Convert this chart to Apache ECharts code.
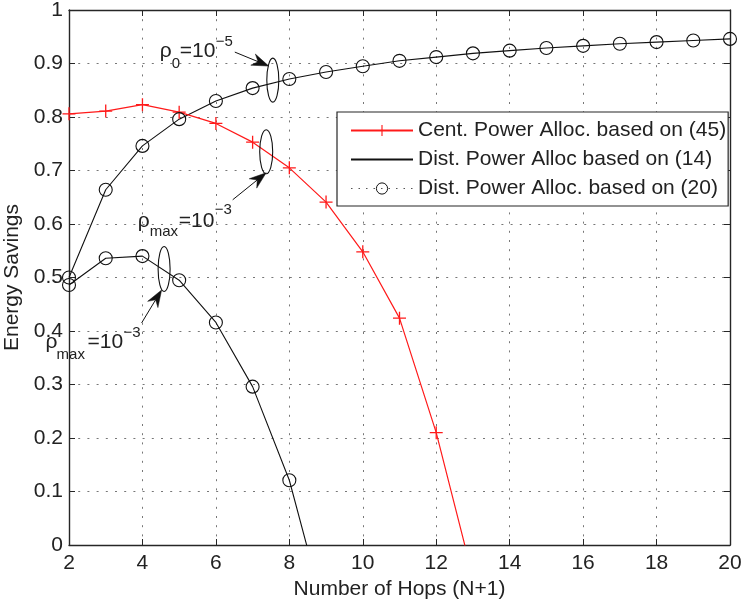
<!DOCTYPE html>
<html>
<head>
<meta charset="utf-8">
<script src="https://cdn.jsdelivr.net/npm/echarts@6/dist/echarts.min.js"></script>
<style>
html,body{margin:0;padding:0;background:#fff;}
#main{width:743px;height:602px;}
</style>
</head>
<body>
<div id="main"></div>
<script>
// ---- data ----
const centX = [2, 3, 4, 5, 6, 7, 8, 9, 10, 11, 12, 13];
const centVals = [0.806, 0.811, 0.823, 0.809, 0.788, 0.753, 0.705, 0.641, 0.548, 0.424, 0.210, -0.06];
const upperX = [2, 3, 4, 5, 6, 7, 8, 9, 10, 11, 12, 13, 14, 15, 16, 17, 18, 19, 20];
const upperVals = [0.500, 0.664, 0.746, 0.796, 0.830, 0.854, 0.871, 0.884, 0.895, 0.905, 0.912, 0.919, 0.924, 0.929, 0.933, 0.937, 0.940, 0.943, 0.946];
const lowerX = [2, 3, 4, 5, 6, 7, 8, 9];
const lowerVals = [0.486, 0.536, 0.540, 0.495, 0.416, 0.296, 0.121, -0.136];
const seriesNames = ['Cent. Power Alloc. based on (45)', 'Dist. Power Alloc based on (14)', 'Dist. Power Alloc. based on (20)'];
const xTicks = [2, 4, 6, 8, 10, 12, 14, 16, 18, 20];
const yTicks = [0, 0.1, 0.2, 0.3, 0.4, 0.5, 0.6, 0.7, 0.8, 0.9, 1];

const pairs = (xs, ys) => xs.map((x, i) => [x, ys[i]]);
const FONT = "'Liberation Sans', Arial, Helvetica, sans-serif";
const TXT = '#222';
const FS = 21;
const plusPath = 'path://M0,4.5h10v1h-10zM4.5,0h1v10h-1z';

const chart = echarts.init(document.getElementById('main'), null, {renderer: 'canvas'});

const axisCommon = {
  type: 'value',
  axisLine: {show: true, onZero: false, lineStyle: {color: '#262626', width: 1.4}},
  axisTick: {show: true, inside: true, length: 6, lineStyle: {color: '#262626', width: 1}},
};

const option = {
  backgroundColor: '#fff',
  animation: false,
  textStyle: {fontFamily: FONT},
  grid: {left: 69, right: 13, top: 10, bottom: 57, containLabel: false, outerBoundsMode: 'none'},
  xAxis: [
    Object.assign({}, axisCommon, {
      position: 'bottom', min: xTicks[0], max: xTicks[xTicks.length - 1], interval: 2,
      name: 'Number of Hops (N+1)', nameLocation: 'middle', nameGap: 28,
      nameTextStyle: {fontSize: FS, color: TXT, fontFamily: FONT},
      axisLabel: {fontSize: FS, color: TXT, margin: 8, fontFamily: FONT},
      splitLine: {show: true, lineStyle: {color: '#777', width: 1, type: [2, 7.2]}}
    }),
    Object.assign({}, axisCommon, {
      position: 'top', min: xTicks[0], max: xTicks[xTicks.length - 1], interval: 2,
      axisLabel: {show: false}, splitLine: {show: false}
    })
  ],
  yAxis: [
    Object.assign({}, axisCommon, {
      position: 'left', min: yTicks[0], max: yTicks[yTicks.length - 1], interval: 0.1,
      name: 'Energy Savings', nameLocation: 'middle', nameGap: 45, nameRotate: 90,
      nameTextStyle: {fontSize: FS, color: TXT, fontFamily: FONT},
      axisLabel: {fontSize: FS, color: TXT, margin: 6, fontFamily: FONT,
        formatter: v => String(Math.round(v * 10) / 10)},
      splitLine: {show: true, lineStyle: {color: '#777', width: 1, type: [2, 7.2]}}
    }),
    Object.assign({}, axisCommon, {
      position: 'right', min: yTicks[0], max: yTicks[yTicks.length - 1], interval: 0.1,
      axisLabel: {show: false}, splitLine: {show: false}
    })
  ],
  legend: {
    orient: 'vertical',
    left: 337, top: 112,
    padding: [8, 2, 7, 13],
    itemWidth: 62, itemHeight: 14, itemGap: 8,
    backgroundColor: '#fff',
    borderColor: '#262626', borderWidth: 1.2,
    selectedMode: false,
    textStyle: {fontSize: FS, color: TXT, fontFamily: FONT},
    data: [
      {name: seriesNames[0]},
      {name: seriesNames[1], itemStyle: {opacity: 0, color: 'rgba(0,0,0,0)', borderColor: 'rgba(0,0,0,0)'}},
      {name: seriesNames[2], itemStyle: {borderWidth: 1}, lineStyle: {opacity: 1, color: '#555', width: 1.2, type: [1.5, 6]}}
    ]
  },
  series: [
    {
      name: seriesNames[0], type: 'line', data: pairs(centX, centVals),
      xAxisIndex: 0, yAxisIndex: 0,
      symbol: plusPath, symbolSize: 13, showAllSymbol: true, clip: true,
      lineStyle: {color: '#ff1a1a', width: 1.2},
      itemStyle: {color: '#ff1a1a'}, z: 3
    },
    {
      name: seriesNames[1], type: 'line', data: pairs(upperX, upperVals),
      xAxisIndex: 0, yAxisIndex: 0, symbol: 'none', clip: true,
      lineStyle: {color: '#111', width: 1.1}, itemStyle: {color: '#111'}, z: 2
    },
    {
      name: seriesNames[1], type: 'line', data: pairs(lowerX, lowerVals),
      xAxisIndex: 0, yAxisIndex: 0, symbol: 'none', clip: true,
      lineStyle: {color: '#111', width: 1.1}, itemStyle: {color: '#111'}, z: 2
    },
    {
      name: seriesNames[2], type: 'line', data: pairs(upperX, upperVals),
      xAxisIndex: 0, yAxisIndex: 0, symbol: 'circle', symbolSize: 13, showAllSymbol: true, clip: true,
      lineStyle: {opacity: 0},
      itemStyle: {color: 'rgba(255,255,255,0)', borderColor: '#111', borderWidth: 1.1}, z: 4
    },
    {
      name: seriesNames[2], type: 'line', data: pairs(lowerX, lowerVals),
      xAxisIndex: 0, yAxisIndex: 0, symbol: 'circle', symbolSize: 13, showAllSymbol: true, clip: true,
      lineStyle: {opacity: 0},
      itemStyle: {color: 'rgba(255,255,255,0)', borderColor: '#111', borderWidth: 1.1}, z: 4
    }
  ]
};
chart.setOption(option);

// ---- annotations (anchored to data coordinates) ----
const annotations = [
  { center: [7.55, 0.869], rx: 6, ry: 22, tail: [-38, -28], tip: [-4, -14],
    parts: [
      {t: 'ρ', dx: -113, dy: -29, fs: 21},
      {t: '0', dx: -101, dy: -16, fs: 15},
      {t: '=10', dx: -93, dy: -29, fs: 21},
      {t: '−5', dx: -57, dy: -38, fs: 15}
    ]},
  { center: [7.37, 0.735], rx: 6.5, ry: 22, tail: [-33.5, 48], tip: [0, 21],
    parts: [
      {t: 'ρ', dx: -128.5, dy: 69, fs: 21},
      {t: 'max', dx: -116.5, dy: 80, fs: 15},
      {t: '=10', dx: -87.5, dy: 69, fs: 21},
      {t: '−3', dx: -51.5, dy: 58, fs: 15}
    ]},
  { center: [4.59, 0.516], rx: 6, ry: 22.5, tail: [-22.5, 54], tip: [-2.5, 21],
    parts: [
      {t: 'ρ', dx: -118.5, dy: 73, fs: 21},
      {t: 'max', dx: -107.5, dy: 86, fs: 15},
      {t: '=10', dx: -76.5, dy: 73, fs: 21},
      {t: '−3', dx: -40.5, dy: 64, fs: 15}
    ]}
];

const graphics = [];
annotations.forEach(a => {
  const c = chart.convertToPixel({gridIndex: 0}, a.center);
  graphics.push({type: 'ellipse', shape: {cx: c[0], cy: c[1], rx: a.rx, ry: a.ry},
    style: {fill: 'none', stroke: '#111', lineWidth: 1.1}, z: 10});
  const tx = c[0] + a.tail[0], ty = c[1] + a.tail[1];
  const px = c[0] + a.tip[0], py = c[1] + a.tip[1];
  const len = Math.hypot(px - tx, py - ty);
  const dx = (px - tx) / len, dy = (py - ty) / len;
  const nx = -dy, ny = dx;
  const L = 17, W = 6;
  const bx = px - L * dx, by = py - L * dy;
  const mx = px - 0.68 * L * dx, my = py - 0.68 * L * dy;
  graphics.push({type: 'line', shape: {x1: tx, y1: ty, x2: mx, y2: my},
    style: {stroke: '#111', lineWidth: 1}, z: 10});
  graphics.push({type: 'polygon', shape: {points: [[px, py], [bx + W * nx, by + W * ny], [mx, my], [bx - W * nx, by - W * ny]]},
    style: {fill: '#111', stroke: '#111', lineWidth: 0.5}, z: 10});
  a.parts.forEach(p => {
    graphics.push({type: 'text', x: c[0] + p.dx, y: c[1] + p.dy,
      style: {text: p.t, fontSize: p.fs, fontFamily: FONT, fill: TXT, align: 'left', verticalAlign: 'middle'}, z: 11});
  });
});
chart.setOption({graphic: graphics});
</script>
</body>
</html>
